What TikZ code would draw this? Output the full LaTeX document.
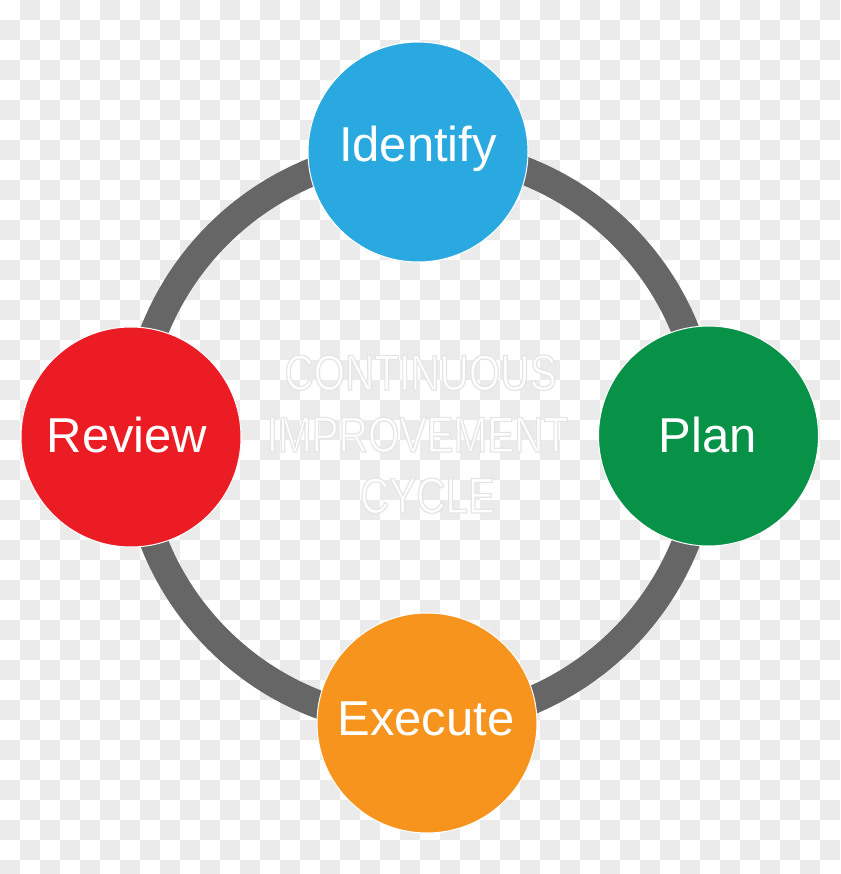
\documentclass[tikz,border=0pt]{standalone}
\usepackage{fontspec}
\setmainfont{Liberation Sans}
\newfontfamily\condfont[FakeStretch=0.81]{Liberation Sans}
\definecolor{chk}{HTML}{EBEBEB}
\definecolor{ringgray}{HTML}{666666}
\definecolor{idblue}{HTML}{29A9E0}
\definecolor{plangreen}{HTML}{079247}
\definecolor{exorange}{HTML}{F7941E}
\definecolor{revred}{HTML}{EC1C24}
\newcommand{\outlined}[1]{\special{pdf:literal direct 2 Tr 1.2 w 0.9 G}#1\special{pdf:literal direct 0 Tr}}
\tikzset{
  ring/.style={draw=ringgray, line width=28pt},
  stage/.style={circle, minimum size=220pt, inner sep=0pt, draw=white, line width=1pt},
  lbl/.style={anchor=base, inner sep=0pt, text=white, font=\fontsize{49}{58}\selectfont},
  ctext/.style={anchor=base, inner sep=0pt, text=white, font=\condfont\fontsize{50}{60}\selectfont}
}
\begin{document}
\begin{tikzpicture}[x=1pt,y=-1pt]
\useasboundingbox (0,0) rectangle (840,874);
\clip (0,0) rectangle (840,874);
\fill[white] (0,0) rectangle (840,874);
\foreach \i in {0,...,41}{%
  \foreach \j in {0,...,43}{%
    \pgfmathtruncatemacro{\chkpar}{mod(\i+\j,2)}%
    \ifnum\chkpar=1 \fill[chk] (\i*20,\j*20) rectangle ++(20,20);\fi
  }%
}
% ring
\coordinate (ctr) at (420,437);
\draw[ring] (ctr) circle[radius=286];
% center text
\node[ctext] (t1) at (420.5,390) {\outlined{CONTINUOUS}};
\node[ctext] (t2) at (417.5,452) {\outlined{IMPROVEMENT}};
\node[ctext] (t3) at (427.5,513) {\outlined{CYCLE}};
% stages
\node[stage, fill=idblue] (identify) at (418,152) {};
\node[stage, fill=plangreen] (plan) at (708.5,436) {};
\node[stage, fill=exorange] (execute) at (427,723) {};
\node[stage, fill=revred] (review) at (131,437) {};
\node[lbl] (identifyt) at (418,162) {Identify};
\node[lbl] (plant) at (708,452) {Plan};
\node[lbl] (executet) at (426,735) {Execute};
\node[lbl] (reviewt) at (127,452) {Review};
\end{tikzpicture}
\end{document}
